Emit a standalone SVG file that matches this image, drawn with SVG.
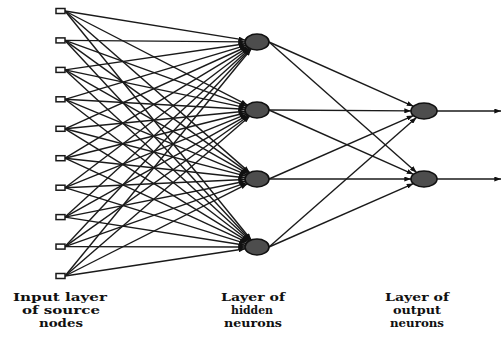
<svg xmlns="http://www.w3.org/2000/svg" width="504" height="343" viewBox="0 0 504 343">
<defs>
<style>
.c line{stroke:#1a1a1a;stroke-width:1.4;marker-end:url(#ah)}
.in rect{fill:#fff;stroke:#1a1a1a;stroke-width:1.5}
.neu ellipse{fill:#4d4d4d;stroke:#111;stroke-width:1.6}
.lbl{font-family:"DejaVu Serif","Liberation Serif",serif;font-weight:bold;font-size:11.5px;fill:#111;text-anchor:middle}
</style>
<marker id="ah" viewBox="0 0 8 6" refX="8" refY="3" markerWidth="7" markerHeight="5" markerUnits="userSpaceOnUse" orient="auto">
<path d="M0,0 L8,3 L0,6 z" fill="#111"/>
</marker>
</defs>
<rect width="504" height="343" fill="#fff"/>
<g id="connectors" class="c">
<line x1="65" y1="11" x2="245.3" y2="40.1"/>
<line x1="65" y1="40.4" x2="245.0" y2="41.9"/>
<line x1="65" y1="69.9" x2="245.3" y2="43.7"/>
<line x1="65" y1="99.3" x2="246.0" y2="45.3"/>
<line x1="65" y1="128.8" x2="247.1" y2="46.5"/>
<line x1="65" y1="158.2" x2="248.1" y2="47.4"/>
<line x1="65" y1="187.7" x2="249.1" y2="48.0"/>
<line x1="65" y1="217.1" x2="249.9" y2="48.5"/>
<line x1="65" y1="246.6" x2="250.6" y2="48.8"/>
<line x1="65" y1="276" x2="251.2" y2="49.0"/>
<line x1="65" y1="11" x2="247.5" y2="105.1"/>
<line x1="65" y1="40.4" x2="246.5" y2="106.2"/>
<line x1="65" y1="69.9" x2="245.5" y2="107.6"/>
<line x1="65" y1="99.3" x2="245.0" y2="109.3"/>
<line x1="65" y1="128.8" x2="245.1" y2="111.2"/>
<line x1="65" y1="158.2" x2="245.8" y2="112.8"/>
<line x1="65" y1="187.7" x2="246.7" y2="114.2"/>
<line x1="65" y1="217.1" x2="247.8" y2="115.1"/>
<line x1="65" y1="246.6" x2="248.8" y2="115.8"/>
<line x1="65" y1="276" x2="249.7" y2="116.3"/>
<line x1="65" y1="11" x2="249.7" y2="172.6"/>
<line x1="65" y1="40.4" x2="248.9" y2="173.1"/>
<line x1="65" y1="69.9" x2="247.9" y2="173.8"/>
<line x1="65" y1="99.3" x2="246.8" y2="174.8"/>
<line x1="65" y1="128.8" x2="245.8" y2="176.1"/>
<line x1="65" y1="158.2" x2="245.2" y2="177.7"/>
<line x1="65" y1="187.7" x2="245.0" y2="179.5"/>
<line x1="65" y1="217.1" x2="245.5" y2="181.3"/>
<line x1="65" y1="246.6" x2="246.4" y2="182.7"/>
<line x1="65" y1="276" x2="247.4" y2="183.8"/>
<line x1="65" y1="11" x2="251.3" y2="240.0"/>
<line x1="65" y1="40.4" x2="250.7" y2="240.2"/>
<line x1="65" y1="69.9" x2="250.0" y2="240.5"/>
<line x1="65" y1="99.3" x2="249.1" y2="241.0"/>
<line x1="65" y1="128.8" x2="248.2" y2="241.6"/>
<line x1="65" y1="158.2" x2="247.1" y2="242.4"/>
<line x1="65" y1="187.7" x2="246.1" y2="243.6"/>
<line x1="65" y1="217.1" x2="245.3" y2="245.2"/>
<line x1="65" y1="246.6" x2="245.0" y2="247.0"/>
<line x1="65" y1="276" x2="245.3" y2="248.8"/>
<line x1="269" y1="42" x2="413.5" y2="106.3"/>
<line x1="269" y1="110" x2="411.0" y2="110.9"/>
<line x1="269" y1="179" x2="413.4" y2="115.6"/>
<line x1="269" y1="247" x2="416.5" y2="117.5"/>
<line x1="269" y1="42" x2="416.6" y2="172.4"/>
<line x1="269" y1="110" x2="413.5" y2="174.3"/>
<line x1="269" y1="179" x2="411.0" y2="179"/>
<line x1="269" y1="247" x2="413.4" y2="183.6"/>
<line x1="437" y1="111" x2="501" y2="111"/>
<line x1="437" y1="179" x2="501" y2="179"/>
</g>
<g id="input-nodes" class="in">
<rect id="in1" x="56" y="8.5" width="9" height="5"/>
<rect id="in2" x="56" y="37.9" width="9" height="5"/>
<rect id="in3" x="56" y="67.4" width="9" height="5"/>
<rect id="in4" x="56" y="96.8" width="9" height="5"/>
<rect id="in5" x="56" y="126.3" width="9" height="5"/>
<rect id="in6" x="56" y="155.7" width="9" height="5"/>
<rect id="in7" x="56" y="185.2" width="9" height="5"/>
<rect id="in8" x="56" y="214.6" width="9" height="5"/>
<rect id="in9" x="56" y="244.1" width="9" height="5"/>
<rect id="in10" x="56" y="273.5" width="9" height="5"/>
</g>
<g id="hidden-neurons" class="neu">
<g id="h1"><ellipse cx="257" cy="42" rx="12" ry="8"/></g>
<g id="h2"><ellipse cx="257" cy="110" rx="12" ry="8"/></g>
<g id="h3"><ellipse cx="257" cy="179" rx="12" ry="8"/></g>
<g id="h4"><ellipse cx="257" cy="247" rx="12" ry="8"/></g>
</g>
<g id="output-neurons" class="neu">
<g id="o1"><ellipse cx="424" cy="111" rx="13" ry="8"/></g>
<g id="o2"><ellipse cx="424" cy="179" rx="13" ry="8"/></g>
</g>
<g id="labels">
<text class="lbl" x="60" y="301" textLength="94" lengthAdjust="spacingAndGlyphs">Input layer</text>
<text class="lbl" x="61" y="314" textLength="78" lengthAdjust="spacingAndGlyphs">of source</text>
<text class="lbl" x="61" y="327" textLength="44" lengthAdjust="spacingAndGlyphs">nodes</text>
<text class="lbl" x="253" y="301" textLength="64" lengthAdjust="spacingAndGlyphs">Layer of</text>
<text class="lbl" x="252" y="314" textLength="42" lengthAdjust="spacingAndGlyphs">hidden</text>
<text class="lbl" x="253" y="327" textLength="58" lengthAdjust="spacingAndGlyphs">neurons</text>
<text class="lbl" x="417" y="301" textLength="64" lengthAdjust="spacingAndGlyphs">Layer of</text>
<text class="lbl" x="417" y="314" textLength="48" lengthAdjust="spacingAndGlyphs">output</text>
<text class="lbl" x="417" y="327" textLength="54" lengthAdjust="spacingAndGlyphs">neurons</text>
</g>
</svg>
